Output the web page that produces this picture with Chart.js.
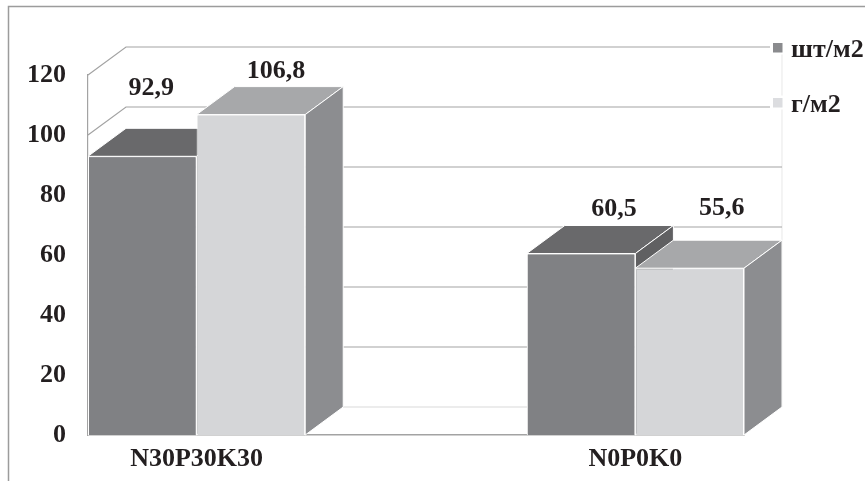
<!DOCTYPE html>
<html>
<head>
<meta charset="utf-8">
<script src="https://cdn.jsdelivr.net/npm/chart.js@4/dist/chart.umd.min.js"></script>
<style>
  html, body { margin: 0; padding: 0; background: #ffffff; }
  canvas { display: block; }
</style>
</head>
<body>
<canvas id="chart" width="865" height="481"></canvas>
<script>
// Treatments and measured values
const categories = ['N30P30K30', 'N0P0K0'];
const seriesNames = ['шт/м2', 'г/м2'];
const perSquareCount = [92.9, 60.5];
const perSquareMass = [106.8, 55.6];
const yTickValues = [0, 20, 40, 60, 80, 100, 120];

// Styling
const FONT_FAMILY = '"Liberation Serif", "Times New Roman", serif';
const FONT_SIZE = 26;
const TEXT_COLOR = '#231f20';
const GRID_COLOR = '#a3a3a3';
const DEPTH_X = 38;      // horizontal depth of the 3D boxes
const DEPTH_Y = 28;      // vertical depth of the 3D boxes
const GROUP_SHARE = 0.495;
const X_MIN = -GROUP_SHARE / 2;
const X_MAX = categories.length - 1 + GROUP_SHARE / 2;
const faceColors = [
  { front: '#808184', top: '#69696b', side: '#606062' },
  { front: '#d5d6d8', top: '#a7a8aa', side: '#8c8d90' }
];
const legendColors = ['#8a8b8e', '#dcdde0'];
// value label offsets [dx, dy] from the front-top centre of each box
const labelOffsets = [
  [[9, -61], [33, -38]],
  [[25, -37], [32, -53]]
];

const seriesValues = [perSquareCount, perSquareMass];

const datasets = seriesValues.map((values, d) => ({
  label: seriesNames[d],
  data: values.map((v, i) => ({ x: i, y: v })),
  backgroundColor: faceColors[d].front,
  borderColor: '#ffffff',
  borderWidth: 1,
  categoryPercentage: GROUP_SHARE,
  barPercentage: 1
}));

const fontSpec = { family: FONT_FAMILY, size: FONT_SIZE, weight: 'bold' };
const fontCss = `bold ${FONT_SIZE}px ${FONT_FAMILY}`;

function fillPoly(ctx, pts, color) {
  ctx.beginPath();
  ctx.moveTo(pts[0][0], pts[0][1]);
  for (let k = 1; k < pts.length; k++) ctx.lineTo(pts[k][0], pts[k][1]);
  ctx.closePath();
  ctx.fillStyle = color;
  ctx.fill();
  ctx.strokeStyle = '#ffffff';
  ctx.lineWidth = 1;
  ctx.stroke();
}

// Outer frame of the chart
const framePlugin = {
  id: 'frame',
  beforeDraw(chart) {
    const ctx = chart.ctx;
    ctx.save();
    ctx.strokeStyle = '#9c9c9c';
    ctx.lineWidth = 1.5;
    ctx.beginPath();
    ctx.moveTo(8.5, chart.height);
    ctx.lineTo(8.5, 6.5);
    ctx.lineTo(chart.width, 6.5);
    ctx.stroke();
    ctx.restore();
  }
};

// Back wall and side wall gridlines
const wallsPlugin = {
  id: 'walls',
  beforeDatasetsDraw(chart) {
    const { ctx, chartArea, scales } = chart;
    const y = scales.y;
    const left = chartArea.left, right = chartArea.right;
    ctx.save();
    ctx.lineWidth = 1.2;
    // faint right edge of the back wall
    ctx.strokeStyle = '#ececec';
    ctx.beginPath();
    ctx.moveTo(right + DEPTH_X, y.getPixelForValue(y.max) - DEPTH_Y);
    ctx.lineTo(right + DEPTH_X, y.getPixelForValue(0) - DEPTH_Y);
    ctx.stroke();
    y.ticks.forEach(t => {
      const py = y.getPixelForValue(t.value);
      ctx.strokeStyle = t.value === 0 ? '#dadada' : GRID_COLOR;
      ctx.beginPath();
      ctx.moveTo(left, py);
      ctx.lineTo(left + DEPTH_X, py - DEPTH_Y);
      ctx.lineTo(right + DEPTH_X, py - DEPTH_Y);
      ctx.stroke();
    });
    ctx.restore();
  }
};

// Top and side faces of the boxes, plus value labels
const boxesPlugin = {
  id: 'boxes',
  afterDatasetsDraw(chart) {
    const ctx = chart.ctx;
    const nSeries = chart.data.datasets.length;
    ctx.save();
    for (let i = 0; i < categories.length; i++) {
      for (let d = 0; d < nSeries; d++) {
        const el = chart.getDatasetMeta(d).data[i];
        el.draw(ctx, chart.chartArea);
        const { x, y, base, width } = el.getProps(['x', 'y', 'base', 'width'], true);
        const l = x - width / 2, r = x + width / 2;
        fillPoly(ctx, [[l, y], [r, y], [r + DEPTH_X, y - DEPTH_Y], [l + DEPTH_X, y - DEPTH_Y]], faceColors[d].top);
        fillPoly(ctx, [[r, y], [r + DEPTH_X, y - DEPTH_Y], [r + DEPTH_X, base - DEPTH_Y], [r, base]], faceColors[d].side);
      }
    }
    ctx.font = fontCss;
    ctx.fillStyle = TEXT_COLOR;
    ctx.textAlign = 'center';
    ctx.textBaseline = 'alphabetic';
    for (let d = 0; d < nSeries; d++) {
      const meta = chart.getDatasetMeta(d);
      meta.data.forEach((el, i) => {
        const { x, y } = el.getProps(['x', 'y'], true);
        const text = seriesValues[d][i].toFixed(1).replace('.', ',');
        const off = labelOffsets[d][i];
        ctx.fillText(text, x + off[0], y + off[1]);
      });
    }
    ctx.restore();
  }
};

// Legend on the right, aligned with the back wall
const legendPlugin = {
  id: 'sideLegend',
  afterDraw(chart) {
    const { ctx, chartArea } = chart;
    const bx = chartArea.right + 29;
    ctx.save();
    ctx.font = fontCss;
    ctx.textAlign = 'left';
    ctx.textBaseline = 'alphabetic';
    chart.data.datasets.forEach((ds, d) => {
      const cy = chartArea.top - DEPTH_Y + 0.5 + d * 55;
      ctx.fillStyle = '#ffffff';
      ctx.fillRect(bx - 3, cy - 7, 15, 14);
      ctx.fillStyle = legendColors[d];
      ctx.fillRect(bx, cy - 4.5, 9.5, 9.5);
      ctx.fillStyle = TEXT_COLOR;
      ctx.fillText(ds.label, bx + 18, cy + 9.5);
    });
    ctx.restore();
  }
};

new Chart(document.getElementById('chart'), {
  type: 'bar',
  data: { datasets },
  options: {
    responsive: false,
    devicePixelRatio: 1,
    animation: false,
    layout: { padding: { left: 0, top: 75, right: 121, bottom: 0 } },
    plugins: {
      legend: { display: false },
      tooltip: { enabled: false }
    },
    scales: {
      x: {
        type: 'linear',
        offset: false,
        bounds: 'data',
        min: X_MIN,
        max: X_MAX,
        afterBuildTicks(scale) {
          scale.ticks = categories.map((c, i) => ({ value: i }));
        },
        afterFit(scale) { scale.height = 46; },
        grid: { display: false, drawTicks: false, offset: false },
        border: { display: true, color: GRID_COLOR, width: 1.5 },
        ticks: {
          autoSkip: false,
          maxRotation: 0,
          padding: 9,
          color: TEXT_COLOR,
          font: fontSpec,
          callback: (value) => categories[value]
        }
      },
      y: {
        min: 0,
        max: 120,
        afterBuildTicks(scale) {
          scale.ticks = yTickValues.map(v => ({ value: v }));
        },
        afterFit(scale) { scale.width = 88; },
        grid: { display: false, drawTicks: false },
        border: { display: true, color: GRID_COLOR, width: 1.2 },
        ticks: {
          padding: 22,
          color: TEXT_COLOR,
          font: fontSpec
        }
      }
    }
  },
  plugins: [framePlugin, wallsPlugin, boxesPlugin, legendPlugin]
});
</script>
</body>
</html>
